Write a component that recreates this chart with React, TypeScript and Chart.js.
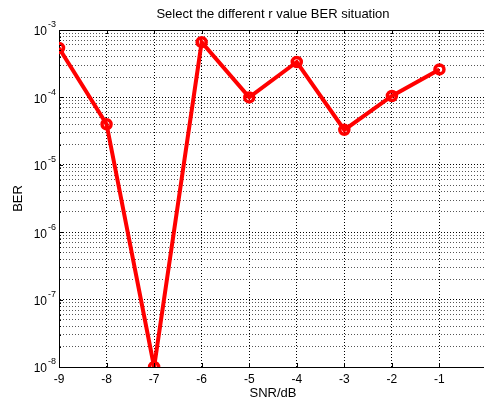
import React, { useEffect, useRef } from "react";
import Chart from "chart.js/auto";

const snr = [-9, -8, -7, -6, -5, -4, -3, -2, -1];
const ber = [5.4e-4, 4.0e-5, 1.0e-8, 6.6e-4, 1.0e-4, 3.35e-4, 3.3e-5, 1.05e-4, 2.6e-4];
const xTicks = [-9, -8, -7, -6, -5, -4, -3, -2, -1, 0];
const yExponents = [-8, -7, -6, -5, -4, -3];
const minorMantissas = [2, 3, 4, 5, 6, 7, 8, 9];
const titleText = "Select the different r value BER situation";
const xTitle = "SNR/dB";
const yTitle = "BER";

const FONT = "'Liberation Sans', Arial, sans-serif";

export default function App() {
  const ref = useRef<HTMLCanvasElement>(null);
  useEffect(() => {
    const canvas = ref.current!;
    const yTickValues: number[] = [];
    yExponents.forEach((e, i) => {
      yTickValues.push(Number(`1e${e}`));
      if (i < yExponents.length - 1) {
        minorMantissas.forEach((m) => yTickValues.push(Number(`${m}e${e}`)));
      }
    });
    const isMajor = (v: number) => {
      const l = Math.log10(v);
      return Math.abs(l - Math.round(l)) < 1e-9;
    };

    const textPlugin = {
      id: "matlabText",
      afterDraw(chart: any) {
        const { ctx, chartArea } = chart;
        const ys = chart.scales.y;
        const xs = chart.scales.x;
        ctx.save();
        ctx.strokeStyle = "#000";
        ctx.lineWidth = 1;
        ctx.beginPath();
        ctx.moveTo(chartArea.left, chartArea.top + 0.5);
        ctx.lineTo(chartArea.right, chartArea.top + 0.5);
        ctx.stroke();
        ctx.beginPath();
        xTicks.forEach((t) => {
          const px = Math.round(xs.getPixelForValue(t)) + 0.5;
          ctx.moveTo(px, chartArea.bottom);
          ctx.lineTo(px, chartArea.bottom - 4);
          ctx.moveTo(px, chartArea.top);
          ctx.lineTo(px, chartArea.top + 4);
        });
        yTickValues.forEach((v) => {
          const py = Math.round(ys.getPixelForValue(v)) + 0.5;
          const len = isMajor(v) ? 4 : 2;
          ctx.moveTo(chartArea.left, py);
          ctx.lineTo(chartArea.left + len, py);
        });
        ctx.stroke();
        ctx.fillStyle = "#000";
        yExponents.forEach((e) => {
          const py = ys.getPixelForValue(Number(`1e${e}`));
          ctx.font = `12px ${FONT}`;
          ctx.textAlign = "right";
          ctx.textBaseline = "middle";
          ctx.fillText("10", 47, py + 2);
          ctx.font = `9px ${FONT}`;
          ctx.textAlign = "left";
          ctx.fillText(String(e), 48, py - 5);
        });
        const cx = (chartArea.left + chartArea.right) / 2;
        ctx.font = `13px ${FONT}`;
        ctx.textAlign = "center";
        ctx.textBaseline = "middle";
        ctx.fillText(titleText, cx, 14);
        ctx.fillText(xTitle, cx, 393);
        ctx.save();
        ctx.translate(18, (chartArea.top + chartArea.bottom) / 2);
        ctx.rotate(-Math.PI / 2);
        ctx.fillText(yTitle, 0, 0);
        ctx.restore();
        ctx.restore();
      },
    };

    const chart = new Chart(canvas, {
      type: "line",
      data: {
        labels: snr,
        datasets: [
          {
            data: snr.map((x, i) => ({ x, y: ber[i] })),
            borderColor: "#ff0000",
            borderWidth: 4,
            pointRadius: 4.5,
            pointBorderWidth: 3.5,
            pointBackgroundColor: "rgba(255,255,255,0)",
            pointBorderColor: "#ff0000",
            tension: 0,
          },
        ],
      },
      options: {
        animation: false,
        responsive: false,
        devicePixelRatio: 1,
        layout: { padding: { top: 30, right: 4, left: 0, bottom: 0 } },
        plugins: { legend: { display: false }, tooltip: { enabled: false } },
        scales: {
          x: {
            type: "linear",
            min: -9,
            max: 0,
            afterBuildTicks: (s: any) => {
              s.ticks = xTicks.map((v) => ({ value: v }));
            },
            afterFit: (s: any) => {
              s.height = 36;
            },
            ticks: {
              color: "#000",
              font: { family: FONT, size: 12 },
              padding: 5,
              maxRotation: 0,
              callback: (v: any) => (v === 0 ? "" : String(v)),
            },
            grid: {
              color: "#000",
              lineWidth: 1,
              drawTicks: false,
            },
            border: { display: true, color: "#000", width: 1, dash: [1, 2] },
          },
          y: {
            type: "logarithmic",
            min: 1e-8,
            max: 1e-3,
            afterBuildTicks: (s: any) => {
              s.ticks = yTickValues.map((v) => ({ value: v, major: isMajor(v) }));
            },
            afterFit: (s: any) => {
              s.width = 59;
            },
            ticks: { display: false },
            grid: {
              color: (c: any) => (c.tick && isMajor(c.tick.value) ? "#000" : "#555"),
              lineWidth: 1,
              drawTicks: false,
            },
            border: { display: true, color: "#000", width: 1, dash: [1, 2] },
          },
        },
      },
      plugins: [textPlugin],
    });
    return () => chart.destroy();
  }, []);
  return (
    <div
      style={{
        position: "absolute",
        left: 0,
        top: 0,
        width: 484,
        height: 403,
        overflow: "hidden",
        background: "#fff",
      }}
    >
      <canvas ref={ref} width={495} height={403} style={{ width: 495, height: 403 }} />
    </div>
  );
}
